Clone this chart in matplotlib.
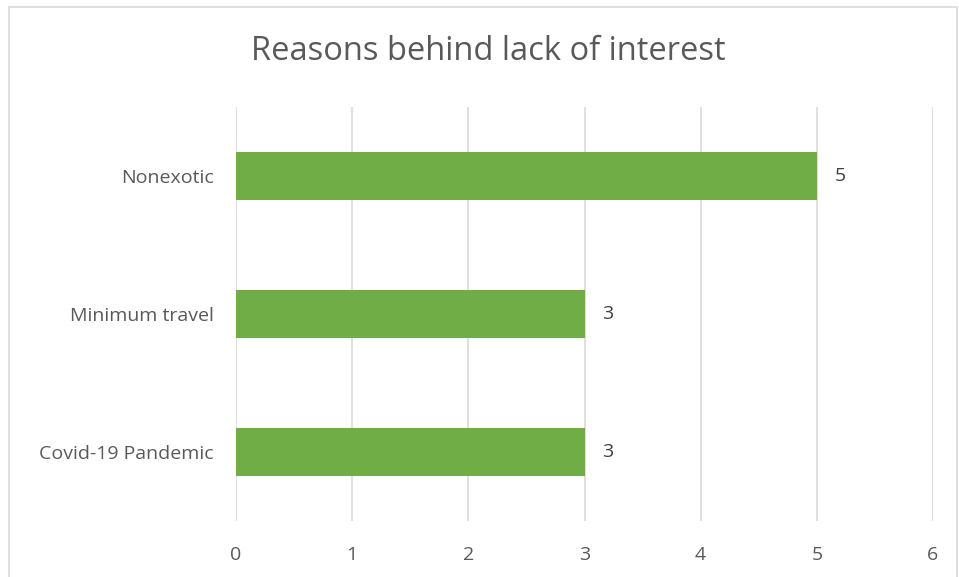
import matplotlib
matplotlib.use("Agg")
import matplotlib.pyplot as plt
from matplotlib.patches import Rectangle

categories = ["Covid-19 Pandemic", "Minimum travel", "Nonexotic"]
values = [3, 3, 5]
xticks = [0, 1, 2, 3, 4, 5, 6]

plt.rcParams['font.family'] = ['Open Sans', 'DejaVu Sans']

fig = plt.figure(figsize=(9.59, 5.77), dpi=100)
ax = fig.add_axes([236/959, 1-521/577, (933-236)/959, (521-107)/577])

ypos = list(range(len(categories)))
ax.barh(ypos, values, height=0.35, color="#70AD47", zorder=3)
for y, v in zip(ypos, values):
    ax.text(v + 0.15, y, str(v), va="center", ha="left", fontsize=14, color="#404040")

ax.set_xlim(0, 6)
ax.set_ylim(-0.5, 2.5)
ax.set_xticks(xticks)
ax.set_xticklabels([str(t) for t in xticks], fontsize=14, color="#595959")
ax.set_yticks(ypos)
ax.set_yticklabels(categories, fontsize=14, color="#595959")
ax.tick_params(axis="x", length=0, pad=18)
ax.tick_params(axis="y", length=0, pad=16)
ax.grid(axis="x", color="#D9D9D9", linewidth=1.2, zorder=0)
for s in ax.spines.values():
    s.set_visible(False)

fig.text(488/959, 1-52/577, "Reasons behind lack of interest", ha="center", va="center",
         fontsize=23.5, color="#595959")

fig.patches.append(Rectangle((8.5/959, -0.05), (957-8.5)/959, 1.05 - 7.5/577,
                             transform=fig.transFigure, fill=False,
                             edgecolor="#D9D9D9", linewidth=1.2))

fig.savefig("out.png", dpi=100)
